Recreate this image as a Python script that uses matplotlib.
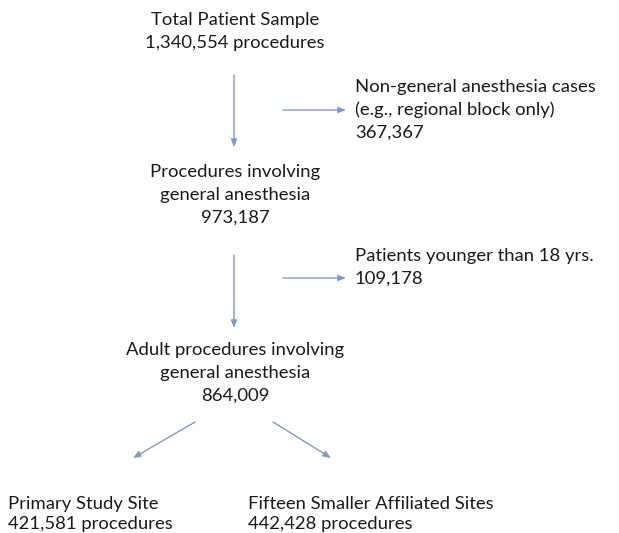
import matplotlib.pyplot as plt

plt.rcParams['font.family'] = ['Lato', 'DejaVu Sans']

# box texts (centre column)
main_boxes = [
    ["Total Patient Sample", "1,340,554 procedures"],
    ["Procedures involving", "general anesthesia", "973,187"],
    ["Adult procedures involving", "general anesthesia", "864,009"],
]
# exclusions on the right
excluded = [
    ["Non-general anesthesia cases", "(e.g., regional block only)", "367,367"],
    ["Patients younger than 18 yrs.", "109,178"],
]
# final split
sites = [
    ["Primary Study Site", "421,581 procedures"],
    ["Fifteen Smaller Affiliated Sites", "442,428 procedures"],
]

fig = plt.figure(figsize=(6.19, 5.33), dpi=100)
ax = fig.add_axes([0, 0, 1, 1])
ax.set_xlim(0, 619)
ax.set_ylim(533, 0)
ax.axis('off')

tc = '#1a1a1a'
fs = 13.3
lh = 23

def block(lines, x, y, ha, step=lh):
    for i, s in enumerate(lines):
        ax.text(x, y + i * step, s, ha=ha, va='center', fontsize=fs, color=tc)

block(main_boxes[0], 235, 20, 'center')
block(main_boxes[1], 235, 172, 'center')
block(main_boxes[2], 235, 350, 'center')
block(excluded[0], 355, 87, 'left')
block(excluded[1], 355, 256, 'left')
block(sites[0], 8, 504, 'left', 20)
block(sites[1], 248, 504, 'left', 20)

ap = dict(arrowstyle='-|>,head_length=0.45,head_width=0.18', color='#7d9dc6', lw=1.0,
          shrinkA=0, shrinkB=0)

def arrow(x0, y0, x1, y1):
    ax.annotate('', xy=(x1, y1), xytext=(x0, y0), arrowprops=ap)

arrow(234, 75, 234, 147)
arrow(283, 110, 346, 110)
arrow(234, 255, 234, 328)
arrow(283, 278, 346, 278)
arrow(195, 422, 133, 458)
arrow(273, 422, 331, 458)

fig.savefig('out.png', dpi=100)
